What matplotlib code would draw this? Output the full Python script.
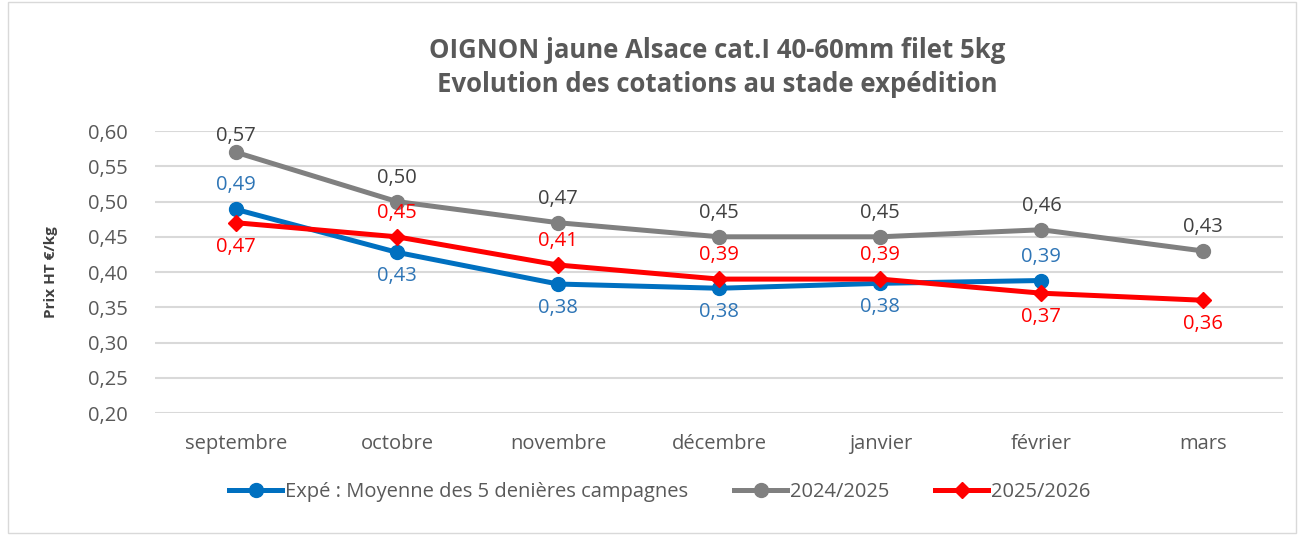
import matplotlib.pyplot as plt
import matplotlib.patches as patches
import numpy as np

plt.rcParams['font.family'] = ['Open Sans', 'DejaVu Sans']

months = ['septembre', 'octobre', 'novembre', 'décembre', 'janvier', 'février', 'mars']
moyenne_5 = [0.489, 0.428, 0.383, 0.377, 0.384, 0.388]
camp_2425 = [0.57, 0.50, 0.47, 0.45, 0.45, 0.46, 0.43]
camp_2526 = [0.47, 0.45, 0.41, 0.39, 0.39, 0.37, 0.36]
yticks = [0.20, 0.25, 0.30, 0.35, 0.40, 0.45, 0.50, 0.55, 0.60]

# label placement: +1 above, -1 below
pos_moy = [1, -1, -1, -1, -1, 1]
pos_2425 = [1, 1, 1, 1, 1, 1, 1]
pos_2526 = [-1, 1, 1, 1, 1, -1, -1]

fig = plt.figure(figsize=(13.04, 5.35), dpi=100)
ax = fig.add_axes([0.119, 0.228, 0.865, 0.527])

x = np.arange(len(months))
ax.plot(x[:len(moyenne_5)], moyenne_5, color='#0070C0', lw=3.6, marker='o', ms=10,
        label='Expé : Moyenne des 5 denières campagnes', zorder=3)
ax.plot(x, camp_2425, color='#808080', lw=3.6, marker='o', ms=10,
        label='2024/2025', zorder=3)
ax.plot(x, camp_2526, color='#FF0000', lw=3.6, marker='D', ms=8,
        label='2025/2026', zorder=4)

off = 0.034  # label offset in data units
def labels(vals, pos, color):
    for i, (v, p) in enumerate(zip(vals, pos)):
        ly = min(v + off * p, 0.593)
        ax.text(i, ly, f'{v:.2f}'.replace('.', ','), ha='center', va='center',
                color=color, fontsize=14.5)

labels(moyenne_5, pos_moy, '#2E75B6')
labels(camp_2425, pos_2425, '#404040')
labels(camp_2526, pos_2526, '#FF0000')

ax.set_xlim(-0.5, len(months) - 0.5)
ax.set_ylim(0.20, 0.60)
ax.set_yticks(yticks)
ax.set_yticklabels([f'{t:.2f}'.replace('.', ',') for t in yticks])
ax.set_xticks(x)
ax.set_xticklabels(months)
ax.tick_params(axis='both', length=0, labelsize=14.5, colors='#595959')
ax.tick_params(axis='x', pad=15)
ax.tick_params(axis='y', pad=20)
ax.grid(axis='y', color='#D9D9D9', lw=1.5)
ax.set_axisbelow(True)
for s in ax.spines.values():
    s.set_visible(False)

ax.set_ylabel('Prix HT €/kg', fontsize=11, fontweight='bold', color='#404040')
ax.yaxis.set_label_coords(-0.086, 0.5)

fig.text(0.55, 0.905, 'OIGNON jaune Alsace cat.I 40-60mm filet 5kg', ha='center', va='center',
         fontsize=18.5, fontweight='bold', color='#595959')
fig.text(0.55, 0.842, 'Evolution des cotations au stade expédition', ha='center', va='center',
         fontsize=18.5, fontweight='bold', color='#595959')

leg = fig.legend(loc='center', bbox_to_anchor=(0.506, 0.08), ncol=3, frameon=False,
                 fontsize=14.5, handlelength=2.6, columnspacing=2.3, handletextpad=0.15)
for t in leg.get_texts():
    t.set_color('#595959')

fig.patches.append(patches.Rectangle((0.006, 0.004), 0.988, 0.992, transform=fig.transFigure,
                                     fill=False, edgecolor='#D9D9D9', lw=1))

fig.savefig('out.png', dpi=100)
